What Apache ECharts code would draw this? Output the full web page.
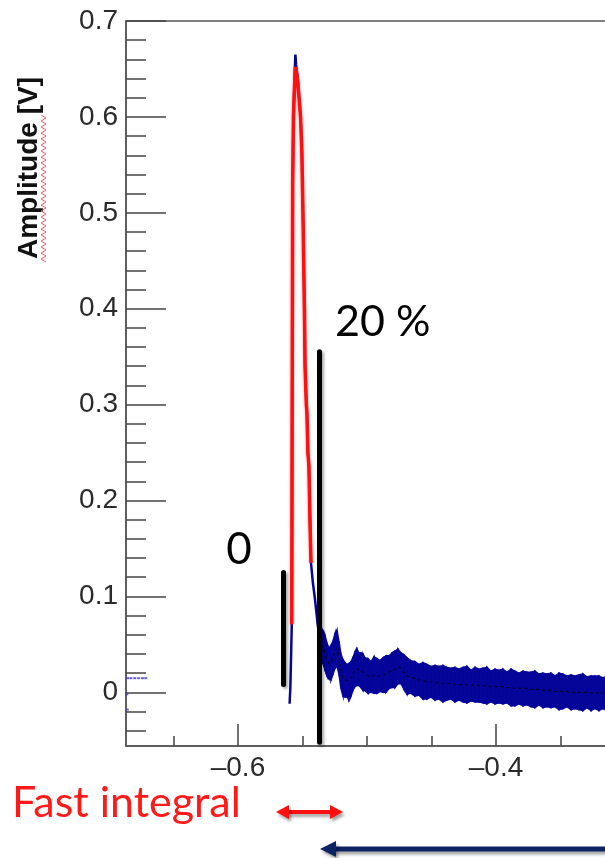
<!DOCTYPE html>
<html><head><meta charset="utf-8">
<script src="https://cdn.jsdelivr.net/npm/echarts@6/dist/echarts.min.js"></script>
<style>html,body{margin:0;padding:0;background:#fff}#c{width:605px;height:858px}</style>
</head><body><div id="c"></div>
<script>
// ---- axis ticks ----
const yMajorTicks = [0, 0.1, 0.2, 0.3, 0.4, 0.5, 0.6, 0.7];
const yMinorTicks = [-0.04, -0.02, 0.02, 0.04, 0.06, 0.08, 0.12, 0.14, 0.16, 0.18, 0.22, 0.24, 0.26, 0.28,
  0.32, 0.34, 0.36, 0.38, 0.42, 0.44, 0.46, 0.48, 0.52, 0.54, 0.56, 0.58, 0.62, 0.64, 0.66, 0.68];
const xMajorTicks = [-0.6, -0.4];
const xMinorTicks = [-0.65, -0.55, -0.5, -0.45, -0.35];

// ---- waveform (blue trace around the peak) ----
const blueX = [-0.5600, -0.5594, -0.5588, -0.5583, -0.5580, -0.5576, -0.5570, -0.5562, -0.5555, -0.5550, -0.5545,
  -0.5540, -0.5530, -0.5515, -0.5505, -0.5495, -0.5485, -0.5480, -0.5470, -0.5465, -0.5458, -0.5450, -0.5442,
  -0.5434, -0.5420, -0.5403, -0.5380];
const blueY = [-0.012, 0.005, 0.040, 0.071, 0.30, 0.53, 0.60, 0.64, 0.665, 0.655, 0.648,
  0.645, 0.63, 0.60, 0.565, 0.49, 0.40, 0.34, 0.30, 0.29, 0.25, 0.236, 0.18,
  0.135, 0.115, 0.097, 0.068];

// ---- fast-integral (red) part of the pulse ----
const redX = [-0.5583, -0.5580, -0.5576, -0.5570, -0.5562, -0.5555, -0.5548, -0.5540, -0.5530, -0.5515,
  -0.5505, -0.5495, -0.5485, -0.5480, -0.5470, -0.5465, -0.5458, -0.5450, -0.5442, -0.5434];
const redY = [0.071, 0.30, 0.53, 0.60, 0.63, 0.652, 0.650, 0.64, 0.625, 0.60,
  0.565, 0.49, 0.40, 0.34, 0.30, 0.29, 0.25, 0.236, 0.18, 0.135];

// ---- tail: mean value and error band ----
const tailX = [
  -0.5380, -0.5357, -0.5341, -0.5325, -0.5310, -0.5295, -0.5279, -0.5264, -0.5248, -0.5233,
  -0.5217, -0.5202, -0.5186, -0.5171, -0.5155, -0.5140, -0.5124, -0.5109, -0.5093, -0.5078,
  -0.5062, -0.5047, -0.5031, -0.5016, -0.4992, -0.4969, -0.4946, -0.4922, -0.4899, -0.4876,
  -0.4853, -0.4829, -0.4806, -0.4783, -0.4760, -0.4736, -0.4713, -0.4690, -0.4659, -0.4628,
  -0.4597, -0.4566, -0.4535, -0.4504, -0.4473, -0.4442, -0.4411, -0.4380, -0.4349, -0.4318,
  -0.4287, -0.4256, -0.4225, -0.4194, -0.4163, -0.4132, -0.4101, -0.4070, -0.4039, -0.4008,
  -0.3977, -0.3946, -0.3915, -0.3884, -0.3853, -0.3822, -0.3791, -0.3760, -0.3729, -0.3698,
  -0.3667, -0.3636, -0.3605, -0.3574, -0.3543, -0.3512, -0.3481, -0.3450, -0.3419, -0.3388,
  -0.3357, -0.3326, -0.3295, -0.3264, -0.3233, -0.3202, -0.3171, -0.3140, -0.3109, -0.3078,
  -0.3047, -0.3000];
const tailY = [
  0.068, 0.050, 0.047, 0.041, 0.034, 0.030, 0.031, 0.036, 0.043, 0.046,
  0.036, 0.022, 0.015, 0.013, 0.012, 0.011, 0.014, 0.019, 0.024, 0.026,
  0.024, 0.023, 0.021, 0.019, 0.017, 0.016, 0.018, 0.017, 0.017, 0.018,
  0.019, 0.021, 0.023, 0.024, 0.027, 0.025, 0.021, 0.017, 0.016, 0.014,
  0.013, 0.012, 0.011, 0.011, 0.010, 0.010, 0.009, 0.009, 0.009, 0.008,
  0.008, 0.008, 0.008, 0.007, 0.008, 0.007, 0.007, 0.007, 0.006, 0.006,
  0.006, 0.006, 0.005, 0.005, 0.004, 0.004, 0.004, 0.004, 0.003, 0.003,
  0.003, 0.002, 0.002, 0.002, 0.001, 0.001, 0.001, 0.001, 0.000, 0.000,
  0.000, 0.000, 0.000, -0.001, 0.000, -0.001, -0.001, -0.001, -0.001, -0.002,
  -0.002, -0.002];
const tailErr = [
  0.012, 0.016, 0.017, 0.018, 0.017, 0.016, 0.018, 0.017, 0.018, 0.019,
  0.017, 0.018, 0.019, 0.018, 0.017, 0.019, 0.018, 0.017, 0.018, 0.019,
  0.017, 0.018, 0.019, 0.017, 0.018, 0.016, 0.019, 0.018, 0.016, 0.018,
  0.019, 0.017, 0.018, 0.019, 0.018, 0.016, 0.018, 0.019, 0.017, 0.018,
  0.016, 0.019, 0.018, 0.016, 0.018, 0.017, 0.019, 0.017, 0.016, 0.018,
  0.016, 0.018, 0.019, 0.016, 0.018, 0.017, 0.018, 0.019, 0.016, 0.018,
  0.017, 0.018, 0.016, 0.019, 0.018, 0.016, 0.018, 0.017, 0.018, 0.019,
  0.016, 0.018, 0.017, 0.018, 0.016, 0.019, 0.018, 0.016, 0.018, 0.017,
  0.018, 0.019, 0.016, 0.018, 0.017, 0.018, 0.016, 0.018, 0.017, 0.018,
  0.016, 0.018];

// ---- stray samples at the far left ----
const strayX = [-0.6855, -0.6830, -0.6800, -0.6770, -0.6740, -0.6715, -0.6862, -0.6858];
const strayY = [0.0147, 0.0147, 0.0147, 0.0147, 0.0147, 0.0147, -0.002, -0.018];

// ---- cut markers (x position, y start, y end) ----
const cutZero = [-0.5651, 0.008, 0.125];
const cutTwenty = [-0.5368, -0.052, 0.355];

const zip = (a, b) => a.map((v, i) => [v, b[i]]);
const bandData = tailX.slice(0, -1).map((x, i) =>
  [x, tailY[i], tailErr[i], tailX[i + 1], tailY[i + 1], tailErr[i + 1]]);

const BLUE = '#05059a';
const xMin = -0.6868, xMax = -0.3, yMin = -0.056, yMax = 0.7;
const tickColor = '#444';
const labelFont = "'Liberation Sans', Arial, sans-serif";
const annFont = "Lato, 'Open Sans', sans-serif";

const chart = echarts.init(document.getElementById('c'), null, {renderer: 'canvas'});
chart.setOption({
  animation: false,
  backgroundColor: '#fff',
  grid: {left: 126, top: 21, right: -20, bottom: 112, containLabel: false, outerBoundsMode: 'none',
    show: true, borderColor: '#555', borderWidth: 1.5},
  xAxis: [{
    type: 'value', min: xMin, max: xMax, position: 'bottom',
    axisLine: {show: true, onZero: false, lineStyle: {color: '#555', width: 1.5}},
    axisTick: {show: true, inside: true, length: 22, customValues: xMajorTicks, lineStyle: {color: tickColor, width: 1.5}},
    axisLabel: {show: true, customValues: xMajorTicks, margin: 8, color: '#2a2a2a', fontSize: 28, fontFamily: labelFont,
      formatter: v => '\u2013' + Math.abs(v).toFixed(1)},
    splitLine: {show: false}
  }, {
    type: 'value', min: xMin, max: xMax, position: 'bottom', gridIndex: 0,
    axisLine: {show: false, onZero: false},
    axisTick: {show: true, inside: true, length: 10, customValues: xMinorTicks, lineStyle: {color: tickColor, width: 1.5}},
    axisLabel: {show: false}, splitLine: {show: false}
  }],
  yAxis: [{
    type: 'value', min: yMin, max: yMax, position: 'left',
    axisLine: {show: true, onZero: false, lineStyle: {color: '#555', width: 1.5}},
    axisTick: {show: true, inside: true, length: 40, customValues: yMajorTicks, lineStyle: {color: tickColor, width: 1.5}},
    axisLabel: {show: true, customValues: yMajorTicks, margin: 8, color: '#2a2a2a', fontSize: 28, fontFamily: labelFont,
      formatter: v => (Math.abs(v) < 1e-9 ? '0' : v.toFixed(1))},
    splitLine: {show: false}
  }, {
    type: 'value', min: yMin, max: yMax, position: 'left', gridIndex: 0,
    axisLine: {show: false, onZero: false},
    axisTick: {show: true, inside: true, length: 20, customValues: yMinorTicks, lineStyle: {color: tickColor, width: 1.5}},
    axisLabel: {show: false}, splitLine: {show: false}
  }],
  series: [
    {
      type: 'custom', name: 'band', xAxisIndex: 0, yAxisIndex: 0, clip: true,
      data: bandData, encode: {x: [0, 3], y: [1, 4]},
      renderItem: function (params, api) {
        const x0 = api.value(0), y0 = api.value(1), e0 = api.value(2);
        const x1 = api.value(3), y1 = api.value(4), e1 = api.value(5);
        const pts = [api.coord([x0, y0 + e0]), api.coord([x1, y1 + e1]),
                     api.coord([x1, y1 - e1]), api.coord([x0, y0 - e0])];
        return {type: 'polygon', shape: {points: pts},
          style: {fill: BLUE, stroke: BLUE, lineWidth: 1.5}};
      },
      z: 2
    },
    {
      type: 'line', name: 'blue', data: zip(blueX, blueY), showSymbol: false,
      lineStyle: {color: BLUE, width: 2.5}, z: 3
    },
    {
      type: 'line', name: 'mean', data: zip(tailX, tailY), showSymbol: false,
      lineStyle: {color: '#000', width: 1.2, type: [3, 3], opacity: 0.75}, z: 4
    },
    {
      type: 'scatter', name: 'stray', data: zip(strayX, strayY), symbol: 'rect', symbolSize: [3, 2],
      itemStyle: {color: '#3a3ad0'}, z: 3
    },
    {
      type: 'line', name: 'fast', data: zip(redX, redY), showSymbol: false,
      lineStyle: {color: '#ff1010', width: 3.5, shadowColor: 'rgba(255,80,80,0.5)', shadowBlur: 3}, z: 5
    },
    {
      type: 'line', name: 'cuts', data: [], z: 6,
      markLine: {
        silent: true, symbol: ['none', 'none'], label: {show: false},
        lineStyle: {color: '#000', width: 5, type: 'solid', cap: 'round',
          shadowColor: 'rgba(0,0,0,0.35)', shadowBlur: 3, shadowOffsetX: 2, shadowOffsetY: 2},
        data: [
          [{coord: [cutZero[0], cutZero[1]]}, {coord: [cutZero[0], cutZero[2]]}],
          [{coord: [cutTwenty[0], cutTwenty[1]]}, {coord: [cutTwenty[0], cutTwenty[2]]}]
        ]
      }
    }
  ],
  graphic: [
    {type: 'text', x: 29, y: 168, rotation: Math.PI / 2,
      style: {text: 'Amplitude [V]', font: "bold 28px " + labelFont, fill: '#111', align: 'center', verticalAlign: 'middle'}},
    {type: 'polyline', silent: true,
      shape: {points: (function () { const p = []; for (let y = 115, k = 0; y <= 263; y += 3, k++) p.push([k % 2 ? 46 : 41, y]); return p; })()},
      style: {stroke: '#ff5a5a', lineWidth: 1, fill: null}},
    {type: 'text', x: 335, y: 322,
      style: {text: '20 %', font: "43px " + annFont, fill: '#000', align: 'left', verticalAlign: 'middle'}},
    {type: 'text', x: 239, y: 550,
      style: {text: '0', font: "44px " + annFont, fill: '#000', align: 'center', verticalAlign: 'middle'}},
    {type: 'text', x: 12, y: 803,
      style: {text: 'Fast integral', font: "43px " + annFont, fill: '#ff1a1a', align: 'left', verticalAlign: 'middle'}},
    // red double arrow
    {type: 'group', children: [
      {type: 'line', shape: {x1: 286, y1: 812, x2: 333, y2: 812},
        style: {stroke: '#ff1010', lineWidth: 4, shadowColor: 'rgba(0,0,0,0.35)', shadowBlur: 3, shadowOffsetX: 2, shadowOffsetY: 3}},
      {type: 'polygon', shape: {points: [[276, 812], [289, 805], [289, 819]]},
        style: {fill: '#ff1010', shadowColor: 'rgba(0,0,0,0.35)', shadowBlur: 3, shadowOffsetX: 2, shadowOffsetY: 3}},
      {type: 'polygon', shape: {points: [[343, 812], [330, 805], [330, 819]]},
        style: {fill: '#ff1010', shadowColor: 'rgba(0,0,0,0.35)', shadowBlur: 3, shadowOffsetX: 2, shadowOffsetY: 3}}
    ]},
    // dark blue arrow
    {type: 'group', children: [
      {type: 'line', shape: {x1: 332, y1: 849, x2: 615, y2: 849},
        style: {stroke: '#0c2462', lineWidth: 5, shadowColor: 'rgba(0,0,0,0.35)', shadowBlur: 3, shadowOffsetX: 2, shadowOffsetY: 3}},
      {type: 'polygon', shape: {points: [[320, 849], [336, 841], [336, 857]]},
        style: {fill: '#0c2462', shadowColor: 'rgba(0,0,0,0.35)', shadowBlur: 3, shadowOffsetX: 2, shadowOffsetY: 3}}
    ]}
  ]
});
</script>
</body></html>
